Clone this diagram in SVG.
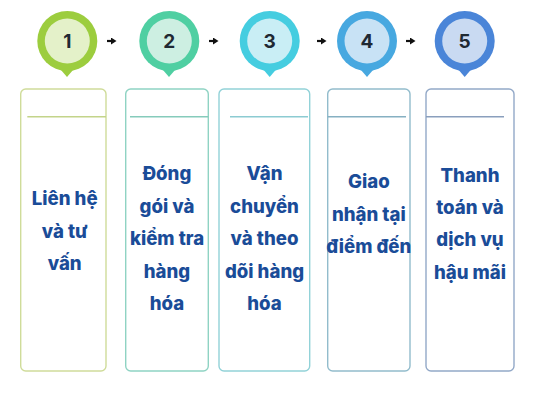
<svg xmlns="http://www.w3.org/2000/svg" width="533" height="400" viewBox="0 0 533 400">
<style>
.box{fill:#fff;stroke-width:1.4}
.div{stroke-width:1.6}
.num{font-family:Inter,"Liberation Sans",sans-serif;font-weight:700;font-size:19px;fill:#1f2933;text-anchor:middle}
.lbl{font-family:Inter,"Liberation Sans",sans-serif;font-weight:800;font-size:18.6px;fill:#1a4c98;text-anchor:middle}
.conn{stroke:#111;stroke-width:2.2;fill:none}
</style>
<defs>
<marker id="ah" markerWidth="6" markerHeight="7" refX="0" refY="3.5" orient="auto" markerUnits="userSpaceOnUse">
<path d="M0,0 L5.5,3.5 L0,7 Z" fill="#111"/>
</marker>
</defs>
<rect width="533" height="400" fill="#fff"/>
<g id="connectors">
<line class="conn" x1="107" y1="41" x2="111" y2="41" marker-end="url(#ah)"/>
<line class="conn" x1="209" y1="41" x2="213" y2="41" marker-end="url(#ah)"/>
<line class="conn" x1="317" y1="41" x2="321" y2="41" marker-end="url(#ah)"/>
<line class="conn" x1="406" y1="41" x2="410" y2="41" marker-end="url(#ah)"/>
</g>
<g id="node1">
<path d="M61,70 L67,77 L73,70 Z" fill="#9ccd3e"/>
<circle cx="67.3" cy="41" r="30" fill="#9ccd3e"/>
<circle cx="67.3" cy="41" r="22.5" fill="#e4f1c9"/>
<text class="num" x="67.3" y="47.8">1</text>
<rect class="box" x="20.7" y="89" width="85.3" height="282" rx="5" stroke="#cfdc9a"/>
<line class="div" x1="27.3" y1="116.7" x2="106" y2="116.7" stroke="#c3d48a"/>
<text class="lbl"><tspan x="64.7" y="205">Liên hệ</tspan><tspan x="64.7" y="237.5">và tư</tspan><tspan x="64.7" y="270">vấn</tspan></text>
</g>
<g id="node2">
<path d="M163,70 L169,77 L175,70 Z" fill="#4fcfa2"/>
<circle cx="169.3" cy="41" r="30" fill="#4fcfa2"/>
<circle cx="169.3" cy="41" r="22.5" fill="#cdefe2"/>
<text class="num" x="169.3" y="47.8">2</text>
<rect class="box" x="125.7" y="89" width="82.6" height="282" rx="5" stroke="#8fd3c3"/>
<line class="div" x1="130" y1="116.7" x2="208.3" y2="116.7" stroke="#86cbbb"/>
<text class="lbl"><tspan x="167" y="180">Đóng</tspan><tspan x="167" y="212.5">gói và</tspan><tspan x="167" y="245">kiểm tra</tspan><tspan x="167" y="277.5">hàng</tspan><tspan x="167" y="310">hóa</tspan></text>
</g>
<g id="node3">
<path d="M263.7,70 L269.7,77 L275.7,70 Z" fill="#45cde0"/>
<circle cx="269.7" cy="41" r="30" fill="#45cde0"/>
<circle cx="269.7" cy="41" r="22.5" fill="#c9eef5"/>
<text class="num" x="269.7" y="47.8">3</text>
<rect class="box" x="219" y="89" width="90.7" height="282" rx="5" stroke="#92d2d8"/>
<line class="div" x1="230" y1="116.7" x2="308" y2="116.7" stroke="#8ccbd2"/>
<text class="lbl"><tspan x="264.5" y="180">Vận</tspan><tspan x="264.5" y="212.5">chuyển</tspan><tspan x="264.5" y="245">và theo</tspan><tspan x="264.5" y="277.5">dõi hàng</tspan><tspan x="264.5" y="310">hóa</tspan></text>
</g>
<g id="node4">
<path d="M361,70 L367,77 L373,70 Z" fill="#47a8e0"/>
<circle cx="367" cy="41" r="30" fill="#47a8e0"/>
<circle cx="367" cy="41" r="22.5" fill="#c8e2f5"/>
<text class="num" x="367" y="47.8">4</text>
<rect class="box" x="327.7" y="89" width="82.3" height="282" rx="5" stroke="#92bccc"/>
<line class="div" x1="327.7" y1="116.7" x2="406" y2="116.7" stroke="#86b0c2"/>
<text class="lbl"><tspan x="368.8" y="188.3">Giao</tspan><tspan x="368.8" y="220.8">nhận tại</tspan><tspan x="368.8" y="253.3">điểm đến</tspan></text>
</g>
<g id="node5">
<path d="M458.7,70 L464.7,77 L470.7,70 Z" fill="#4a85d8"/>
<circle cx="464.7" cy="41" r="30" fill="#4a85d8"/>
<circle cx="464.7" cy="41" r="22.5" fill="#c9daf2"/>
<text class="num" x="464.7" y="47.8">5</text>
<rect class="box" x="426" y="89" width="88" height="282" rx="5" stroke="#93a9c8"/>
<line class="div" x1="426" y1="116.7" x2="504" y2="116.7" stroke="#8a9fbd"/>
<text class="lbl"><tspan x="470" y="181.7">Thanh</tspan><tspan x="470" y="213.8">toán và</tspan><tspan x="470" y="246.2">dịch vụ</tspan><tspan x="470" y="278.5">hậu mãi</tspan></text>
</g>
</svg>
